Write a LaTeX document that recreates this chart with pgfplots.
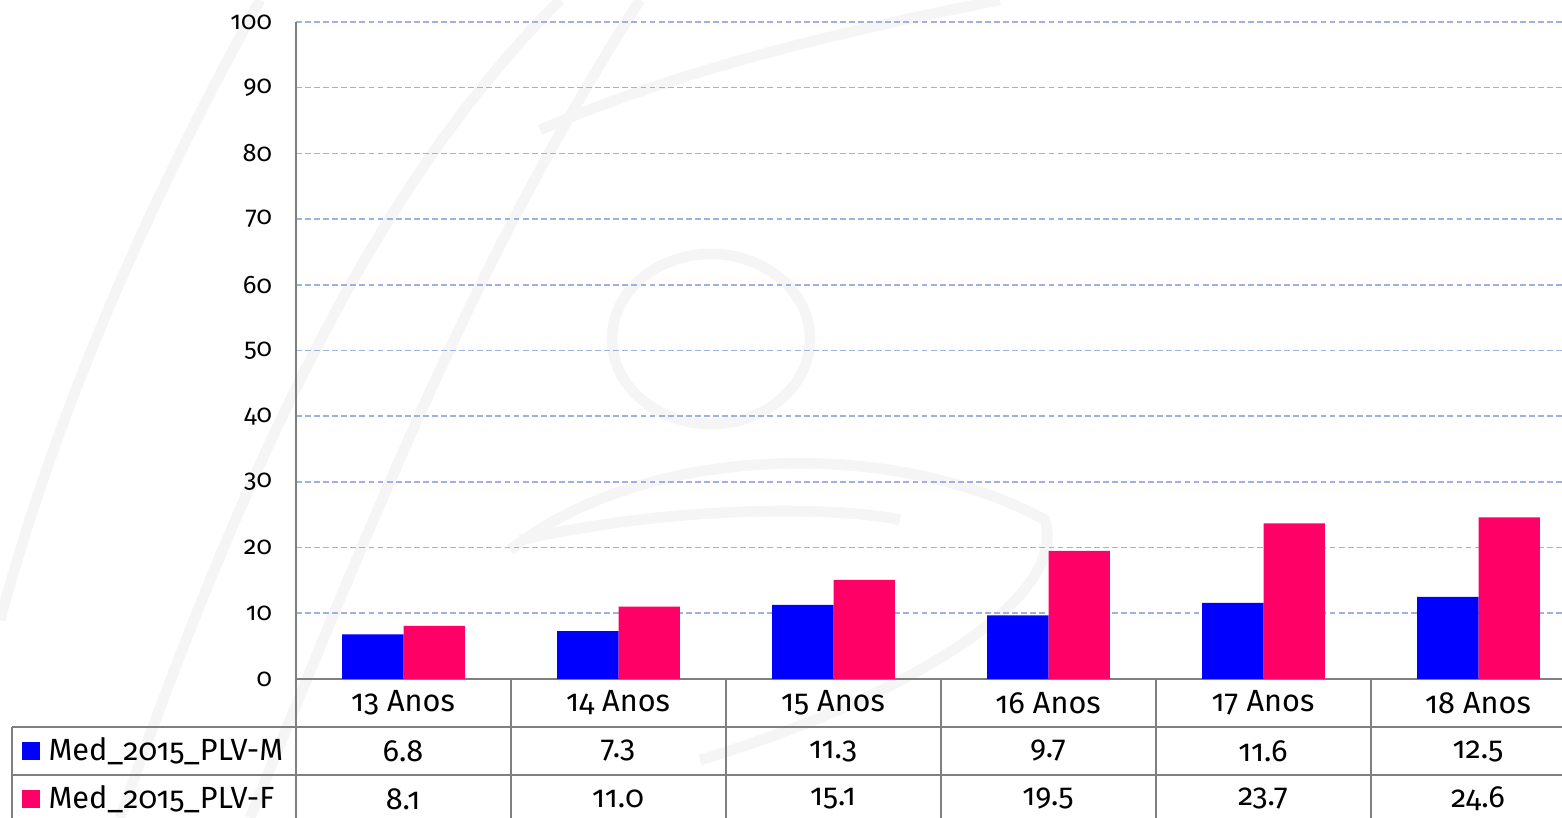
\documentclass[border=0pt]{standalone}
\usepackage{pgfplots}
\usepackage{pgfplotstable}
\usepackage{fontspec}
\setmainfont{Fira Sans}[Numbers=OldStyle]
\pgfplotsset{compat=1.18}

\definecolor{serM}{HTML}{0000FF}
\definecolor{serF}{HTML}{FF0066}
\definecolor{gridc}{HTML}{9DB2E0}
\definecolor{linec}{HTML}{7F7F7F}

% age group index, male, female
\pgfplotstableread{
x M F
0 6.8 8.1
1 7.3 11.0
2 11.3 15.1
3 9.7 19.5
4 11.6 23.7
5 12.5 24.6
}\datatable

\begin{document}
\begin{tikzpicture}
% picture laid out in reference pixels (1px = 0.375pt)
\begin{scope}[x=0.375pt,y=-0.375pt]
  % faint watermark
  \begin{scope}[black!4, line width=4pt]
    \draw (711,339) ellipse [x radius=99, y radius=85];
    \draw (120,818) .. controls (250,450) and (380,180) .. (560,0);
    \draw (250,818) .. controls (380,500) and (480,250) .. (640,0);
    \draw (510,550) .. controls (650,440) and (900,440) .. (1045,520)
          .. controls (1070,600) and (900,700) .. (700,760);
    \draw (520,540) .. controls (700,500) and (860,510) .. (900,520);
    \draw (540,130) .. controls (700,60) and (900,20) .. (1000,0);
    \draw (0,620) .. controls (60,400) and (150,200) .. (260,0);
  \end{scope}
\end{scope}

\begin{axis}[
  at={(111pt,-254.625pt)}, anchor=south west,
  scale only axis, width=483.75pt, height=246.375pt,
  ybar=0pt, bar width=23pt,
  xmin=-0.5, xmax=5.5, ymin=0, ymax=100,
  xtick=\empty, ytick={0,10,...,100},
  axis x line*=bottom, axis y line*=left,
  axis line style={linec, line width=0.75pt},
  ytick style={draw=none},
  ymajorgrids, grid style={gridc, dash pattern=on 2.2pt off 1.2pt, line width=0.6pt},
  /pgf/number format/assume math mode=true,
  yticklabel style={font=\fontsize{9.5}{12}\selectfont, xshift=-5.5pt},
  clip=false,
]
  \addplot[draw=none, fill=serM] table[x=x, y=M] {\datatable};
  \addplot[draw=none, fill=serF] table[x=x, y=F] {\datatable};
\end{axis}

% data table under the chart
\begin{scope}[x=0.375pt,y=-0.375pt]
  \draw[linec, line width=0.75pt]
    (12,727) -- (1586,727)
    (12,775) -- (1586,775)
    (12,727) -- (12,818);
  \foreach \k in {0,...,6}
    \draw[linec, line width=0.75pt] (296+215*\k,679) -- (296+215*\k,818);
  \fill[serM] (22,742) rectangle (40,760);
  \fill[serF] (22,790) rectangle (40,808);
  \node[anchor=west, inner sep=0, font=\fontsize{11.5}{14}\selectfont] at (48,751) {Med\_2015\_PLV-M};
  \node[anchor=west, inner sep=0, font=\fontsize{11.5}{14}\selectfont] at (48,799) {Med\_2015\_PLV-F};
  \foreach \i in {0,...,5} {
    \pgfmathtruncatemacro{\age}{13+\i}
    \node[font=\fontsize{11.5}{14}\selectfont] at (403+215*\i,703) {\age\ Anos};
    \pgfplotstablegetelem{\i}{M}\of\datatable
    \node[font=\fontsize{11.5}{14}\selectfont] at (403+215*\i,751)
      {\pgfmathprintnumber[assume math mode=true, fixed, fixed zerofill, precision=1]{\pgfplotsretval}};
    \pgfplotstablegetelem{\i}{F}\of\datatable
    \node[font=\fontsize{11.5}{14}\selectfont] at (403+215*\i,799)
      {\pgfmathprintnumber[assume math mode=true, fixed, fixed zerofill, precision=1]{\pgfplotsretval}};
  }
  % crop to the reference frame
  \pgfresetboundingbox
  \useasboundingbox (0,0) rectangle (1562,818);
\end{scope}
\end{tikzpicture}
\end{document}
